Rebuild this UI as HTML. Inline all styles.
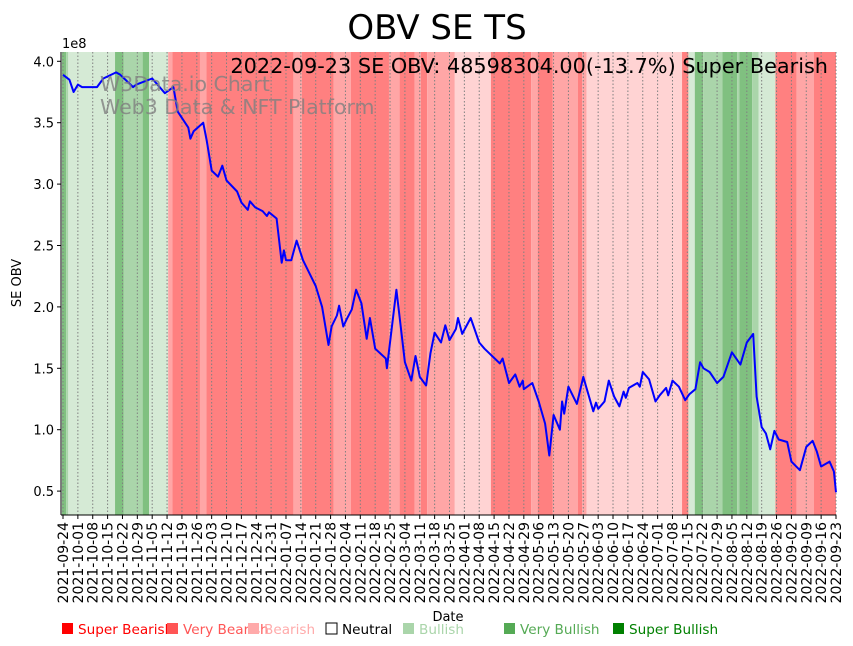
<!DOCTYPE html>
<html><head><meta charset="utf-8"><style>
body{margin:0;background:#fff;}
svg{display:block;font-family:"DejaVu Sans","Liberation Sans",sans-serif;}
</style></head><body>
<svg id="chart" width="853" height="646" viewBox="0 0 853 646">
<text x="437" y="39" font-size="34" text-anchor="middle">OBV SE TS</text>
<g id="bands"></g>
<g id="grid"></g>
<g id="yaxis"></g>
<g id="xaxis"></g>
<path id="line" fill="none" stroke="#0000ff" stroke-width="2" stroke-linejoin="round"/>
<text x="100" y="91" font-size="20.5" fill="#808080" fill-opacity="0.8">W3Data.io Chart</text>
<text x="100" y="114" font-size="20.5" fill="#808080" fill-opacity="0.8">Web3 Data &amp; NFT Platform</text>
<text x="828" y="73" font-size="20.8" text-anchor="end">2022-09-23 SE OBV: 48598304.00(-13.7%) Super Bearish</text>
<text x="62" y="48" font-size="13">1e8</text>
<text transform="translate(21,283) rotate(-90)" font-size="13" text-anchor="middle">SE OBV</text>
<text x="448" y="621" font-size="13" text-anchor="middle">Date</text>
<g id="legend"></g>
</svg>
<script>
const bandEnds=[2,3,25,29,38,41,50,52,65,68,109,113,128,136,154,159,166,169,172,185,202,221,224,231,243,245,247,292,295,298,302,311,318,319,325,328,336,346,354,365];
const bandStates=["SBull","VBull","Bull","SBull","VBull","SBull","Bull","VB","SB","VB","SB","VB","SB","VB","SB","VB","SB","VB","SB","VB","B","SB","VB","SB","VB","SB","VB","B","SB","Bull","SBull","VBull","SBull","VBull","SBull","VBull","Bull","SB","VB","SB"];
const obvDays=[0,3,5,7,9,16,19,25,27,33,34.5,42,48,52,54,59,60,61.5,66,67.6,70,73,75,77,82,84,87,88,90.5,94,96,97,100.6,103,104,105,107.5,110,113,117,119,122,125,126.5,129,130,132,133.6,136,138,140.5,143,144.5,147,152,152.5,157,161,164,166,168,171,173,175,178,180,182,185,186,188,192,196,198.5,205.7,207,210,213,215,216.5,217,221,224,227,229,231,234,235,236,238,242,245,249.7,251,252,255,257,259.5,262,264,265,266.5,270.5,271.6,273,276,279,281,284,285,287,290,293,295,297.8,300,301.6,304.5,308,311,315,319,322,325,326.6,329,331,333,335,337,341,343,347,350,353,355,357,361,363,364];
const obvValues=[3.89,3.85,3.75,3.81,3.79,3.79,3.86,3.91,3.89,3.79,3.81,3.86,3.74,3.79,3.59,3.46,3.37,3.43,3.50,3.36,3.11,3.06,3.15,3.03,2.94,2.85,2.79,2.86,2.81,2.78,2.74,2.77,2.72,2.36,2.46,2.38,2.38,2.54,2.38,2.24,2.17,2.00,1.69,1.84,1.93,2.01,1.84,1.90,1.98,2.14,2.03,1.74,1.91,1.66,1.58,1.50,2.14,1.55,1.40,1.60,1.43,1.36,1.62,1.79,1.71,1.85,1.73,1.82,1.91,1.78,1.91,1.71,1.66,1.54,1.58,1.38,1.45,1.35,1.40,1.33,1.38,1.23,1.05,0.79,1.12,1.00,1.23,1.13,1.35,1.21,1.43,1.15,1.22,1.17,1.23,1.40,1.27,1.19,1.31,1.26,1.34,1.38,1.35,1.47,1.41,1.23,1.28,1.34,1.28,1.40,1.35,1.24,1.29,1.33,1.55,1.50,1.47,1.38,1.43,1.63,1.53,1.71,1.78,1.27,1.02,0.97,0.84,0.99,0.92,0.90,0.74,0.67,0.86,0.91,0.82,0.70,0.74,0.66,0.49];
const yTicks=[0.5,1.0,1.5,2.0,2.5,3.0,3.5,4.0];
const xTickLabels=["2021-09-24","2021-10-01","2021-10-08","2021-10-15","2021-10-22","2021-10-29","2021-11-05","2021-11-12","2021-11-19","2021-11-26","2021-12-03","2021-12-10","2021-12-17","2021-12-24","2021-12-31","2022-01-07","2022-01-14","2022-01-21","2022-01-28","2022-02-04","2022-02-11","2022-02-18","2022-02-25","2022-03-04","2022-03-11","2022-03-18","2022-03-25","2022-04-01","2022-04-08","2022-04-15","2022-04-22","2022-04-29","2022-05-06","2022-05-13","2022-05-20","2022-05-27","2022-06-03","2022-06-10","2022-06-17","2022-06-24","2022-07-01","2022-07-08","2022-07-15","2022-07-22","2022-07-29","2022-08-05","2022-08-12","2022-08-19","2022-08-26","2022-09-02","2022-09-09","2022-09-16","2022-09-23"];
const legendLabels=["Super Bearish","Very Bearish","Bearish","Neutral","Bullish","Very Bullish","Super Bullish"];

const NS="http://www.w3.org/2000/svg";
const X0=63,X1=836,PT=52,PB=515,PL=61;
const xs=d=>X0+d*(X1-X0)/364;
const ys=v=>61.3+(4.0-v)*122.8;
const bandColor={SB:"#ff8080",VB:"#ffa6a6",B:"#ffd3d3",Bull:"#d5ead5",VBull:"#aad5aa",SBull:"#80c080"};
function mk(tag,attrs,parent){const e=document.createElementNS(NS,tag);for(const k in attrs)e.setAttribute(k,attrs[k]);parent.appendChild(e);return e;}

const bands=document.getElementById('bands');
let start=-0.5;
bandEnds.forEach((end,i)=>{
  const x0=Math.max(PL,xs(start)), x1=Math.min(X1,xs(end-0.5));
  const r=mk('rect',{x:x0,y:PT,width:Math.max(0,x1-x0),height:PB-PT,fill:bandColor[bandStates[i]]},bands);
  
  
  start=end-0.5;
});

const grid=document.getElementById('grid'), xaxis=document.getElementById('xaxis');
xTickLabels.forEach((lab,i)=>{
  const x=xs(i*7);
  const g=mk('line',{x1:x,x2:x,y1:PT,y2:PB,stroke:"#808080","stroke-width":1,"stroke-dasharray":"1.5,2"},grid);
  
  
  mk('line',{x1:x,x2:x,y1:PB,y2:PB+4,stroke:"#000","stroke-width":1},xaxis);
  const t=mk('text',{transform:`translate(${x+5},${PB+7}) rotate(-90)`,"font-size":14,"text-anchor":"end"},xaxis);
  t.textContent=lab;
  
  
});
mk('line',{x1:PL,x2:X1,y1:PB,y2:PB,stroke:"#000","stroke-width":1},xaxis);

const yaxis=document.getElementById('yaxis');
mk('line',{x1:PL,x2:PL,y1:PT,y2:PB,stroke:"#000","stroke-width":1},yaxis);
yTicks.forEach(v=>{
  const y=ys(v);
  mk('line',{x1:PL-4,x2:PL,y1:y,y2:y,stroke:"#000","stroke-width":1},yaxis);
  const t=mk('text',{x:PL-7,y:y+5,"font-size":13,"text-anchor":"end"},yaxis);
  t.textContent=v.toFixed(1);
  
  
});

document.getElementById('line').setAttribute('d',obvDays.map((d,i)=>(i?'L':'M')+xs(d).toFixed(1)+','+ys(obvValues[i]).toFixed(1)).join(''));

const legend=document.getElementById('legend');
const legColors=["#ff0000","#ff5555","#ffaaaa","none","#aad5aa","#55aa55","#008000"];
const legX=[62,167,248,326,403,504,613];
legendLabels.forEach((lab,i)=>{
  const sq=mk('rect',{x:legX[i],y:623,width:11,height:11,fill:legColors[i]==="none"?"#fff":legColors[i],stroke:legColors[i]==="none"?"#000":"none","stroke-width":1},legend);
  
  
  const t=mk('text',{x:legX[i]+16,y:634,"font-size":13.6,fill:legColors[i]==="none"?"#000":legColors[i]},legend);
  t.textContent=lab;
  
  
});
</script>
</body></html>
